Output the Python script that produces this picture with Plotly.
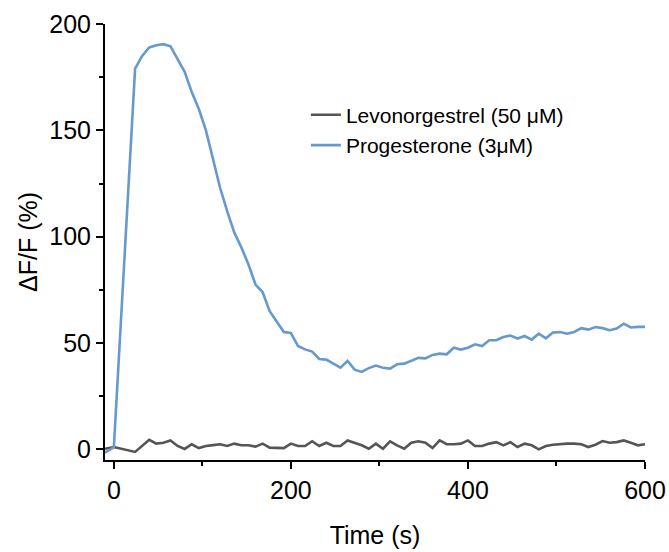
import plotly.graph_objects as go

# ---- DATA ----
time_s = [-10, 0, 24, 32, 40, 48, 56, 64, 72, 80, 88, 96, 104, 112, 120, 128, 136, 144,
          152, 160, 168, 176, 184, 192, 200, 208, 216, 224, 232, 240, 248, 256, 264, 272,
          280, 288, 296, 304, 312, 320, 328, 336, 344, 352, 360, 368, 376, 384, 392, 400,
          408, 416, 424, 432, 440, 448, 456, 464, 472, 480, 488, 496, 504, 512, 520, 528,
          536, 544, 552, 560, 568, 576, 584, 592, 600]

levonorgestrel = [0.3, 1.1, -1.2, 1.6, 4.5, 2.7, 3.1, 4.2, 1.6, 0.2, 2.4, 0.6, 1.6, 2.0,
                  2.4, 1.6, 2.7, 1.9, 1.9, 1.3, 2.7, 0.8, 0.7, 0.6, 2.7, 1.6, 1.6, 3.8,
                  1.6, 3.1, 1.6, 1.6, 4.2, 3.1, 1.9, 0.3, 2.7, 0.3, 3.8, 1.9, 0.3, 3.1,
                  3.8, 3.1, 0.6, 4.2, 2.4, 2.4, 2.7, 4.2, 1.6, 1.6, 2.7, 3.4, 1.9, 3.4,
                  1.1, 2.7, 1.9, 0.0, 1.6, 2.2, 2.6, 2.7, 2.7, 2.4, 1.1, 2.2, 3.9, 3.1,
                  3.4, 4.2, 3.1, 1.9, 2.4]

progesterone = [-1.5, 1.0, 179, 185, 189, 190, 190.5, 189.5, 183.5, 177.5, 168, 160, 150,
                137, 123, 112, 102, 95, 87, 77.5, 74, 65, 60, 55.2, 54.7, 48.6, 47, 46,
                42.5, 42.2, 40.3, 38.4, 41.6, 37.5, 36.4, 38.2, 39.4, 38.4, 38, 40, 40.3,
                41.6, 43, 42.8, 44.4, 45, 44.7, 47.8, 46.9, 47.8, 49.4, 48.6, 51.3, 51.3,
                52.8, 53.5, 52.1, 53.3, 51.6, 54.4, 52.2, 54.9, 55.2, 54.4, 55.2, 57,
                56.3, 57.5, 57, 56, 56.8, 59.1, 57.3, 57.6, 57.6]

font = "Liberation Sans, Arial, sans-serif"

fig = go.Figure()
fig.add_trace(go.Scatter(x=time_s, y=levonorgestrel, mode="lines",
                         name="Levonorgestrel (50 μM)",
                         line=dict(color="#555555", width=2.6)))
fig.add_trace(go.Scatter(x=time_s, y=progesterone, mode="lines",
                         name="Progesterone (3μM)",
                         line=dict(color="#6699CC", width=2.6)))

# shared axis look: black L-shaped axes, outside ticks, no grid
axis_common = dict(showgrid=False, zeroline=False, showline=True, linecolor="black",
                   linewidth=2, ticks="outside", ticklen=7, tickwidth=2,
                   tickcolor="black", tickfont=dict(size=25, color="black"),
                   automargin=False)

fig.update_xaxes(range=[-10, 600], tick0=0, dtick=200,
                 minor=dict(dtick=100, tick0=0, ticks="outside", ticklen=4,
                            tickwidth=2, tickcolor="black"),
                 title=dict(text="Time (s)", font=dict(size=25, color="black"), standoff=23),
                 **axis_common)
fig.update_yaxes(range=[-5, 200], tick0=0, dtick=50,
                 minor=dict(dtick=25, tick0=0, ticks="outside", ticklen=4,
                            tickwidth=2, tickcolor="black"),
                 title=dict(text="ΔF/F (%)", font=dict(size=25, color="black"), standoff=5),
                 **axis_common)

fig.update_layout(
    width=669, height=552,
    margin=dict(l=105, r=24, t=24, b=92),
    plot_bgcolor="white", paper_bgcolor="white",
    font=dict(family=font, color="black"),
    legend=dict(x=0.372, y=0.838, xanchor="left", yanchor="top",
                font=dict(size=21, color="black"), bgcolor="rgba(0,0,0,0)",
                tracegroupgap=0),
)

# drop the default 8px body margin so the figure fills the window exactly
fig.write_html("out.html", config={"displayModeBar": False},
               post_script="document.body.style.margin='0';")
